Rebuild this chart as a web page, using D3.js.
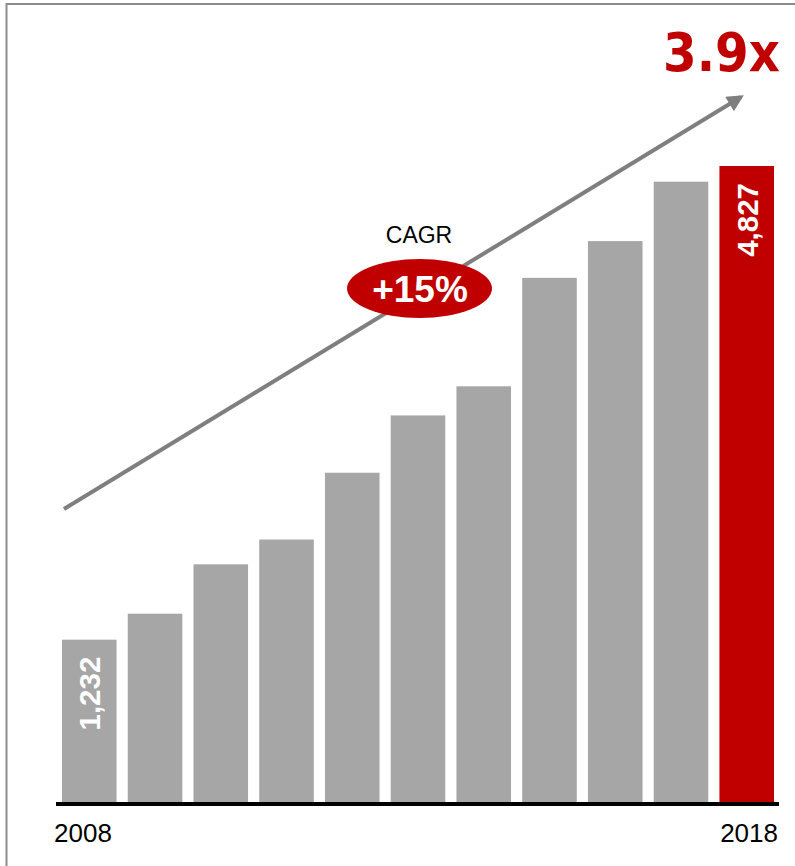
<!DOCTYPE html>
<html>
<head>
<meta charset="utf-8">
<script src="https://cdn.jsdelivr.net/npm/d3@7"></script>
<style>
  html, body { margin: 0; padding: 0; background: #fff; }
  svg { display: block; }
</style>
</head>
<body>
<div id="chart"></div>
<script>
// Yearly values, 2008–2018
const years = ["2008", "2009", "2010", "2011", "2012", "2013", "2014", "2015", "2016", "2017", "2018"];
const values = [1232, 1429, 1804, 1992, 2499, 2934, 3155, 3978, 4257, 4708, 4827];
const labelledYears = ["2008", "2018"];
const valueLabels = { "2008": "1,232", "2018": "4,827" };
const growthLabel = "3.9x";
const cagrTitle = "CAGR";
const cagrValue = "+15%";

const W = 795, H = 866;
const RED = "#C00000", GREY = "#A6A6A6", ARROW = "#7F7F7F";

const svg = d3.select("#chart").append("svg")
  .attr("width", W).attr("height", H);

// frame (top and left edges visible)
svg.append("path")
  .attr("d", "M6.5,900 L6.5,4 L900,4")
  .attr("fill", "none").attr("stroke", "#8c8c8c").attr("stroke-width", 2);

const x = d3.scaleBand().domain(years).range([62, 774]).paddingInner(0.17).paddingOuter(0);
const y = d3.scaleLinear().domain([0, 4827]).range([802, 166]);

// bars
svg.append("g").selectAll("rect").data(years).join("rect")
  .attr("x", d => x(d))
  .attr("width", x.bandwidth())
  .attr("y", (d, i) => y(values[i]))
  .attr("height", (d, i) => y(0) - y(values[i]))
  .attr("fill", (d, i) => i === years.length - 1 ? RED : GREY);

// baseline
svg.append("line")
  .attr("x1", 56).attr("x2", 779)
  .attr("y1", y(0) + 2).attr("y2", y(0) + 2)
  .attr("stroke", "#000").attr("stroke-width", 4);

// value labels inside the first and last bars
svg.append("g").selectAll("text").data(Object.keys(valueLabels)).join("text")
  .attr("transform", d => {
    const i = years.indexOf(d);
    return `translate(${x(d) + x.bandwidth() / 2 + 11},${y(values[i]) + 17}) rotate(-90)`;
  })
  .attr("text-anchor", "end")
  .attr("font-family", "Liberation Sans, Arial, sans-serif")
  .attr("font-weight", "bold")
  .attr("font-size", 29.5)
  .attr("fill", "#fff")
  .text(d => valueLabels[d]);

// year labels
svg.append("text")
  .attr("x", 54).attr("y", 842)
  .attr("text-anchor", "start")
  .attr("font-family", "Liberation Sans, Arial, sans-serif")
  .attr("font-size", 26).attr("fill", "#000")
  .text(labelledYears[0]);
svg.append("text")
  .attr("x", 778).attr("y", 842)
  .attr("text-anchor", "end")
  .attr("font-family", "Liberation Sans, Arial, sans-serif")
  .attr("font-size", 26).attr("fill", "#000")
  .text(labelledYears[1]);

// growth arrow
svg.append("defs").append("marker")
  .attr("id", "head")
  .attr("viewBox", "0 0 10 10")
  .attr("refX", 8).attr("refY", 5)
  .attr("markerWidth", 4.6).attr("markerHeight", 4.2)
  .attr("markerUnits", "strokeWidth")
  .attr("orient", "auto")
  .append("path").attr("d", "M0,0 L10,5 L0,10 Z").attr("fill", ARROW);

svg.append("line")
  .attr("x1", 64).attr("y1", 509)
  .attr("x2", 741).attr("y2", 97)
  .attr("stroke", ARROW).attr("stroke-width", 4)
  .attr("marker-end", "url(#head)");

// growth multiple
svg.append("text")
  .attr("x", 663).attr("y", 71)
  .attr("font-family", "DejaVu Sans, Verdana, sans-serif")
  .attr("font-weight", "bold")
  .attr("font-size", 54)
  .attr("fill", RED)
  .attr("textLength", 117)
  .attr("lengthAdjust", "spacingAndGlyphs")
  .text(growthLabel);

// CAGR badge
svg.append("text")
  .attr("x", 419).attr("y", 243)
  .attr("text-anchor", "middle")
  .attr("font-family", "Liberation Sans, Arial, sans-serif")
  .attr("font-size", 23).attr("fill", "#000")
  .text(cagrTitle);

svg.append("ellipse")
  .attr("cx", 419.5).attr("cy", 288.5)
  .attr("rx", 72.5).attr("ry", 29.5)
  .attr("fill", RED);

svg.append("text")
  .attr("x", 420).attr("y", 302)
  .attr("text-anchor", "middle")
  .attr("font-family", "Liberation Sans, Arial, sans-serif")
  .attr("font-weight", "bold")
  .attr("font-size", 37).attr("fill", "#fff")
  .text(cagrValue);
</script>
</body>
</html>
